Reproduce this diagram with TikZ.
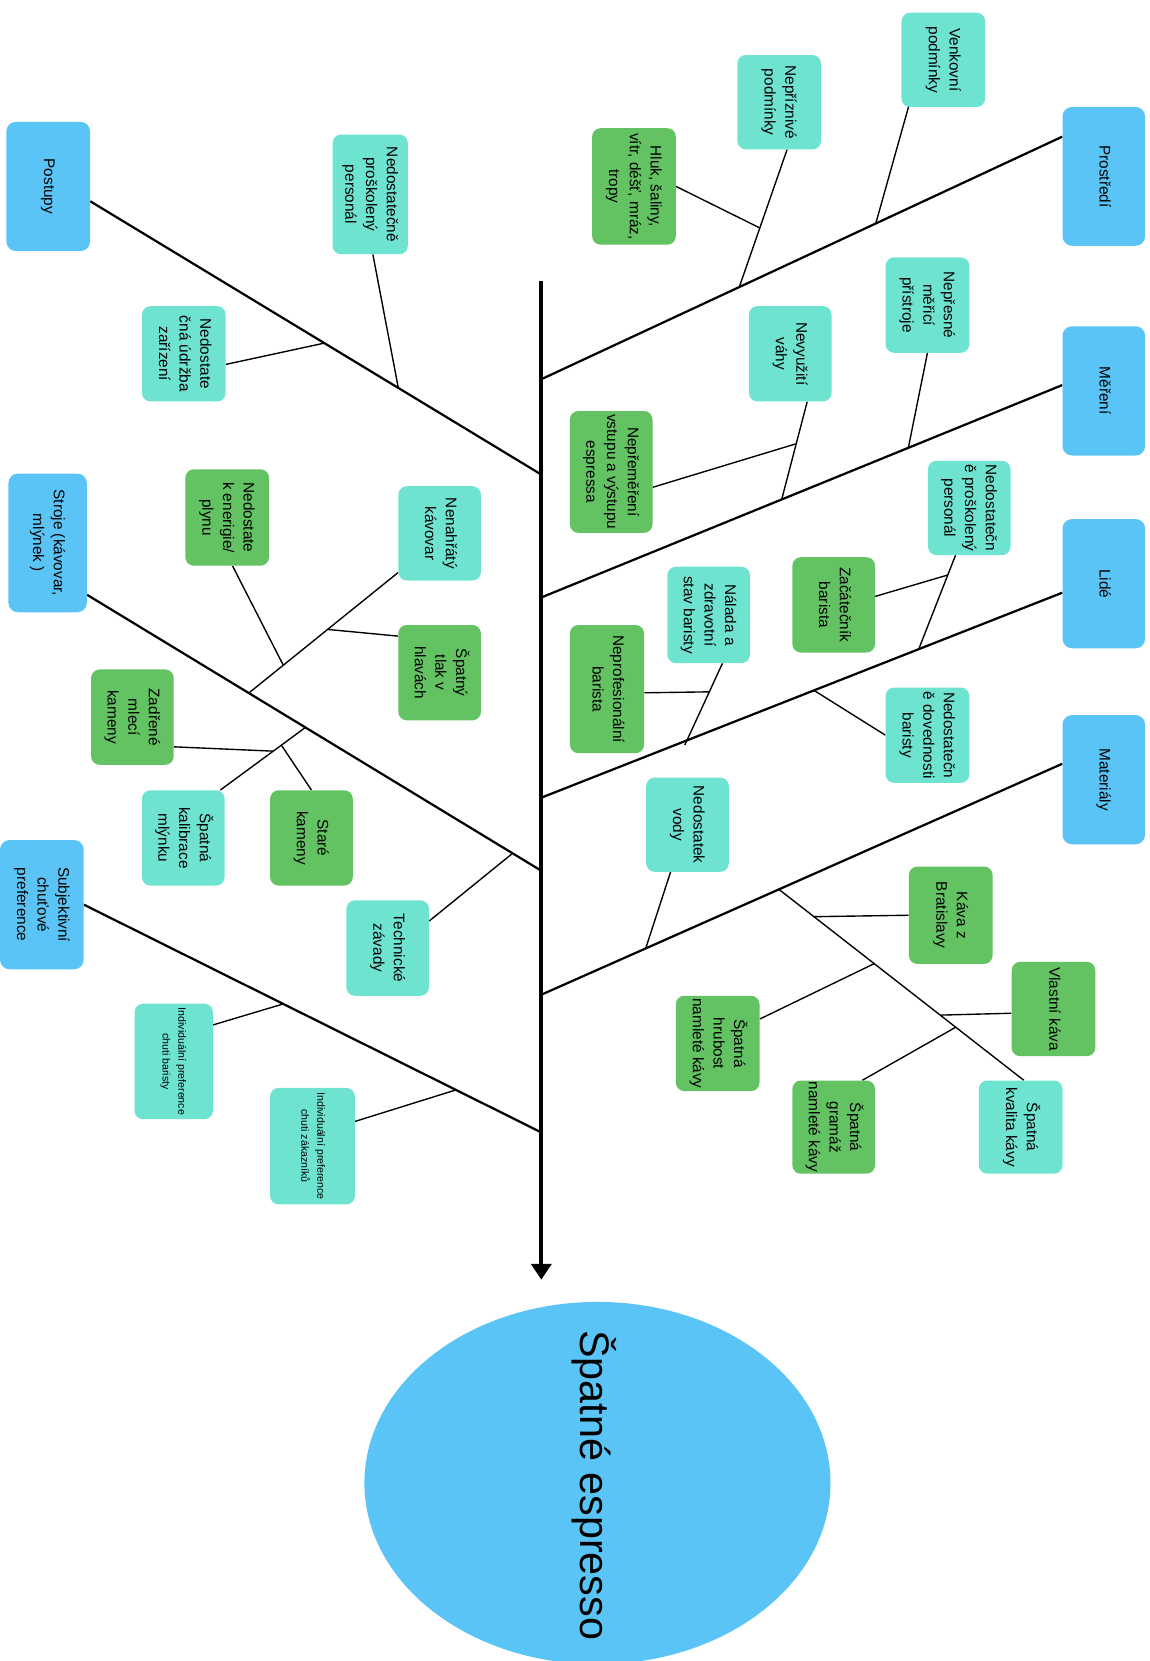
\documentclass[tikz,border=0pt]{standalone}
\usepackage{fontspec}
\setmainfont{Liberation Sans}
\usepackage{graphicx}
\usetikzlibrary{calc,arrows.meta,shapes.geometric}
\pgfdeclarelayer{bg}
\pgfsetlayers{bg,main}
\definecolor{catblue}{HTML}{5BC4F6}
\definecolor{causeteal}{HTML}{6EE4D0}
\definecolor{causegreen}{HTML}{63C363}
% vertical (clockwise) multi-line label
\newcommand{\vlabel}[1]{\rotatebox{-90}{\begin{tabular}{@{}c@{}}#1\end{tabular}}}
\tikzset{
  boxbase/.style={inner sep=0pt, font=\fontsize{14.5}{19.5}\selectfont},
  catbox/.style={boxbase, rounded corners=9pt, fill=catblue},
  tealbox/.style={boxbase, rounded corners=8pt, fill=causeteal},
  greenbox/.style={boxbase, rounded corners=8pt, fill=causegreen},
  smalltext/.style={font=\fontsize{10}{15}\selectfont},
  bsize/.style 2 args={minimum width=#1pt, minimum height=#2pt},
  spineline/.style={line width=3.6pt, -{Triangle[width=19pt,length=15pt]}},
  branch/.style={line width=2.1pt},
  twig/.style={line width=1.3pt},
}
\begin{document}
\begin{tikzpicture}[x=1pt,y=-1pt]
\useasboundingbox (0,0) rectangle (1085,1568);

% ---------- effect ----------
\node[ellipse, fill=catblue, minimum width=440pt, minimum height=342pt, inner sep=0pt] (eff) at (564,1400) {};
\node[inner sep=0pt] (efftext) at (561,1402)
  {\rotatebox{-90}{\fontsize{39}{45}\selectfont Špatné espresso}};

% ---------- categories ----------
\node[catbox, bsize={79}{122}] (post) at (45.5,176) {\vlabel{Postupy}};
\node[catbox, bsize={74}{131}] (stro) at (45,512.5) {\vlabel{Stroje (kávovar,\\mlýnek )}};
\node[catbox, bsize={79}{122}] (subj) at (39.5,854) {\vlabel{Subjektivní\\chuťové\\preference}};
\node[catbox, bsize={78}{131}] (pros) at (1042,166.5) {\vlabel{Prostředí}};
\node[catbox, bsize={78}{122}] (mere) at (1042,369) {\vlabel{Měření}};
\node[catbox, bsize={78}{122}] (lide) at (1042,551) {\vlabel{Lidé}};
\node[catbox, bsize={78}{122}] (mate) at (1042,736) {\vlabel{Materiály}};

% ---------- causes: Postupy ----------
\node[tealbox, bsize={71}{113}] (nd1) at (349.5,183.5) {\vlabel{Nedostatečně\\proškolený\\personál}};
\node[tealbox, bsize={79}{90}] (nu) at (173.5,334) {\vlabel{Nedostate\\čná údržba\\zařízení}};

% ---------- causes: Prostředí ----------
\node[tealbox, bsize={79}{89}] (ven) at (890.5,56.5) {\vlabel{Venkovní\\podmínky}};
\node[tealbox, bsize={79}{89}] (nep) at (735.5,96.5) {\vlabel{Nepříznivé\\podmínky}};
\node[greenbox, bsize={79}{110}] (hluk) at (598.5,176) {\vlabel{Hluk, šaliny,\\vítr, déšť, mráz,\\tropy}};

% ---------- causes: Měření ----------
\node[tealbox, bsize={79}{90}] (npm) at (875.5,288) {\vlabel{Nepřesné\\měřicí\\přístroje}};
\node[tealbox, bsize={78}{90}] (nev) at (746,334) {\vlabel{Nevyužití\\váhy}};
\node[greenbox, bsize={78}{115}] (npv) at (577,445.5) {\vlabel{Nepřeměření\\vstupu a výstupu\\espressa}};

% ---------- causes: Lidé ----------
\node[tealbox, bsize={78}{89}] (nd2) at (915,479.5) {\vlabel{Nedostatečn\\ě proškolený\\personál}};
\node[greenbox, bsize={78}{90}] (zac) at (787,571) {\vlabel{Začátečník\\barista}};
\node[tealbox, bsize={79}{90}] (ndov) at (875.5,694) {\vlabel{Nedostatečn\\ě dovednosti\\baristy}};
\node[tealbox, bsize={78}{91}] (nal) at (669,580.5) {\vlabel{Nálada a\\zdravotní\\stav baristy}};
\node[greenbox, bsize={70}{121}] (nepr) at (573,650.5) {\vlabel{Neprofesionální\\barista}};

% ---------- causes: Materiály ----------
\node[tealbox, bsize={78}{89}] (nvod) at (649,778.5) {\vlabel{Nedostatek\\vody}};
\node[greenbox, bsize={79}{92}] (kbr) at (897.5,864) {\vlabel{Káva z\\Bratislavy}};
\node[greenbox, bsize={79}{89}] (vk) at (994.5,952.5) {\vlabel{Vlastní káva}};
\node[tealbox, bsize={79}{88}] (skk) at (963.5,1064) {\vlabel{Špatná\\kvalita kávy}};
\node[greenbox, bsize={79}{90}] (shr) at (677.5,985) {\vlabel{Špatná\\hrubost\\namleté kávy}};
\node[greenbox, bsize={78}{88}] (sgr) at (787,1064) {\vlabel{Špatná\\gramáž\\namleté kávy}};

% ---------- causes: Stroje ----------
\node[tealbox, bsize={78}{89}] (nenk) at (415,503.5) {\vlabel{Nenahřátý\\kávovar}};
\node[greenbox, bsize={79}{91}] (nen) at (214.5,488.5) {\vlabel{Nedostate\\k enerigie/\\plynu}};
\node[greenbox, bsize={78}{90}] (stl) at (415,635) {\vlabel{Špatný\\tlak v\\hlavách}};
\node[greenbox, bsize={78}{90}] (zmk) at (125,677) {\vlabel{Zadřené\\mlecí\\kameny}};
\node[tealbox, bsize={78}{90}] (skm) at (173,791) {\vlabel{Špatná\\kalibrace\\mlýnku}};
\node[greenbox, bsize={78}{90}] (stk) at (294,791) {\vlabel{Staré\\kameny}};
\node[tealbox, bsize={78}{90}] (tz) at (366,895) {\vlabel{Technické\\závady}};

% ---------- causes: Subjektivní chuťové preference ----------
\node[tealbox, smalltext, bsize={74}{109}] (ipb) at (164,1002) {\vlabel{Individuální preference\\chuti baristy}};
\node[tealbox, smalltext, bsize={80}{110}] (ipz) at (295,1082) {\vlabel{Individuální preference\\chuti zákazníků}};

% ---------- spine ----------
\coordinate (sTop) at (511,265);
\coordinate (sTip) at (511,1208);
\coordinate (jPros) at (511,358);
\coordinate (jPost) at (511,448);
\coordinate (jMere) at (511,564);
\coordinate (jLide) at (511,753);
\coordinate (jStro) at (511,822);
\coordinate (jMate) at (511,939);
\coordinate (jSubj) at (511,1069);

% branch starts at the category boxes
\coordinate (bPost) at ($(post.east)+(0,14)$);
\coordinate (bStro) at ($(stro.east)+(0,49)$);
\coordinate (bSubj) at (subj.east);
\coordinate (bPros) at ($(pros.west)+(0,-37.5)$);
\coordinate (bMere) at ($(mere.west)+(0,-5.5)$);
\coordinate (bLide) at ($(lide.west)+(0,8.5)$);
\coordinate (bMate) at ($(mate.west)+(0,-15)$);

\begin{pgfonlayer}{bg}
\draw[spineline] (sTop) -- (sTip);
\foreach \b/\j in {Post/Post, Stro/Stro, Subj/Subj, Pros/Pros, Mere/Mere, Lide/Lide, Mate/Mate}
  \draw[branch] (b\b) -- (j\j);

% Postupy
\coordinate (jNd1) at ($(bPost)!0.683!(jPost)$);
\coordinate (jNu) at ($(bPost)!0.519!(jPost)$);
\draw[twig] ($(nd1.south)+(2.5,0)$) -- (jNd1);
\draw[twig] ($(nu.east)+(0,10)$) -- (jNu);

% Prostředí
\coordinate (jVen) at ($(bPros)!0.358!(jPros)$);
\coordinate (jNep) at ($(bPros)!0.62!(jPros)$);
\coordinate (aNep) at ($(nep.south)+(7.5,0)$);
\coordinate (jHluk) at ($(aNep)!0.57!(jNep)$);
\draw[twig] ($(ven.south west)+(9,-8)$) -- (jVen);
\draw[twig] (aNep) -- (jNep);
\draw[twig] (hluk.east) -- (jHluk);

% Měření
\coordinate (jNpm) at ($(bMere)!0.2955!(jMere)$);
\coordinate (jNev) at ($(bMere)!0.5386!(jMere)$);
\coordinate (aNev) at ($(nev.south)+(16,0)$);
\coordinate (jNpv) at ($(aNev)!0.43!(jNev)$);
\draw[twig] (npm.south) -- (jNpm);
\draw[twig] (aNev) -- (jNev);
\draw[twig] ($(npv.east)+(0,14.5)$) -- (jNpv);

% Lidé
\coordinate (jNd2) at ($(bLide)!0.2756!(jLide)$);
\coordinate (aNd2) at ($(nd2.south)+(-13,0)$);
\coordinate (jZac) at ($(aNd2)!0.21!(jNd2)$);
\coordinate (jNdov) at ($(bLide)!0.4766!(jLide)$);
\coordinate (jNal) at ($(bLide)!0.7205!(jLide)$);
\coordinate (aNal) at ($(nal.south)+(13,0)$);
\coordinate (jNepr) at ($(aNal)!0.37!(jNal)$);
\draw[twig] (aNd2) -- (jNd2);
\draw[twig] ($(zac.east)+(0,-8)$) -- (jZac);
\draw[twig] (ndov.west) -- (jNdov);
\draw[twig] (aNal) -- ($(aNal)!1.06!(jNal)$);
\draw[twig] ($(nepr.east)+(0,3.5)$) -- (jNepr);

% Materiály
\coordinate (jNvod) at ($(bMate)!0.7996!(jMate)$);
\coordinate (jMat) at ($(bMate)!0.5439!(jMate)$);
\coordinate (aSkk) at ($(skk.north)+(3,0)$);
\coordinate (jKbr) at ($(jMat)!0.143!(aSkk)$);
\coordinate (jShr) at ($(jMat)!0.389!(aSkk)$);
\coordinate (jVk) at ($(jMat)!0.6586!(aSkk)$);
\coordinate (jSgr) at ($(jMat)!0.722!(aSkk)$);
\draw[twig] ($(nvod.south)+(-16,0)$) -- (jNvod);
\draw[twig] (jMat) -- (aSkk);
\draw[twig] (kbr.west) -- (jKbr);
\draw[twig] ($(shr.east)+(0,-23)$) -- (jShr);
\draw[twig] ($(vk.west)+(0,4)$) -- (jVk);
\draw[twig] ($(sgr.north)+(27,0)$) -- (jSgr);

% Stroje
\coordinate (jA) at ($(bStro)!0.356!(jStro)$);
\coordinate (aNenk) at ($(nenk.west)+(0,37)$);
\coordinate (jNen) at ($(jA)!0.231!(aNenk)$);
\coordinate (jStl) at ($(jA)!0.528!(aNenk)$);
\coordinate (jB) at ($(bStro)!0.4807!(jStro)$);
\coordinate (aSkm) at ($(skm.north)+(35,0)$);
\coordinate (jZmk) at ($(jB)!0.3786!(aSkm)$);
\coordinate (jStk) at ($(jB)!0.283!(aSkm)$);
\coordinate (jTz) at ($(bStro)!0.9368!(jStro)$);
\draw[twig] (jA) -- (aNenk);
\draw[twig] ($(nen.south)+(5,0)$) -- (jNen);
\draw[twig] ($(stl.west)+(0,-34.5)$) -- (jStl);
\draw[twig] (jB) -- (aSkm);
\draw[twig] ($(zmk.east)+(0,28)$) -- (jZmk);
\draw[twig] (stk.north) -- (jStk);
\draw[twig] ($(tz.east)+(0,-25.6)$) -- (jTz);

% Subjektivní chuťové preference
\coordinate (jIpb) at ($(bSubj)!0.4359!(jSubj)$);
\coordinate (jIpz) at ($(bSubj)!0.8134!(jSubj)$);
\draw[twig] ($(ipb.east)+(0,-34.5)$) -- (jIpb);
\draw[twig] ($(ipz.east)+(0,-23.4)$) -- (jIpz);
\end{pgfonlayer}
\end{tikzpicture}
\end{document}
